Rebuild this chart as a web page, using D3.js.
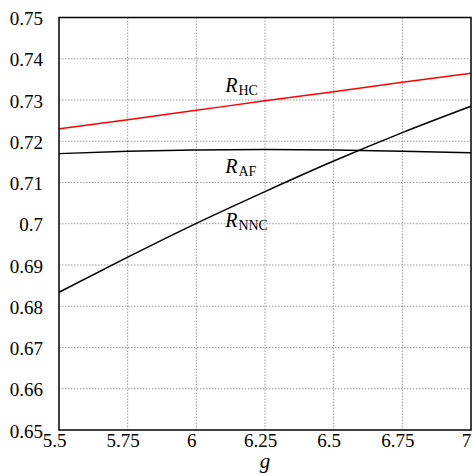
<!DOCTYPE html>
<html>
<head>
<meta charset="utf-8">
<script src="https://cdn.jsdelivr.net/npm/d3@7"></script>
<style>
  body { margin: 0; background: #fff; }
</style>
</head>
<body>
<script>
    'use strict';

    var gValues = [5.5, 5.75, 6, 6.25, 6.5, 6.75, 7];
    var rHC = [0.7230, 0.7252, 0.7275, 0.7298, 0.7320, 0.7343, 0.7365];
    var rAF = [0.7170, 0.7176, 0.7179, 0.7180, 0.7179, 0.7176, 0.7172];
    var rNNC = [0.6834, 0.6919, 0.7001, 0.7078, 0.7152, 0.7221, 0.7285];
    var xTicks = [5.5, 5.75, 6, 6.25, 6.5, 6.75, 7];
    var yTicks = [0.65, 0.66, 0.67, 0.68, 0.69, 0.7, 0.71, 0.72, 0.73, 0.74, 0.75];

    var width = 472;
    var height = 475;
    var margin = { left: 59, right: 1, top: 17.5, bottom: 45 };
    var serif = 'Liberation Serif, DejaVu Serif, Noto Serif, Tinos, Times New Roman, Times, Nimbus Roman, FreeSerif, serif';

    var svg = d3.select('body')
        .append('svg')
        .attr('width', width)
        .attr('height', height)
        .style('font-family', serif)
        ;

    var x = d3.scaleLinear()
        .domain([5.5, 7])
        .range([margin.left, width - margin.right]);

    var y = d3.scaleLinear()
        .domain([0.65, 0.75])
        .range([height - margin.bottom, margin.top]);

    // grid
    svg.append('g')
        .selectAll('line')
        .data(xTicks.slice(1, -1))
        .enter()
        .append('line')
        .attr('x1', x).attr('x2', x)
        .attr('y1', y(0.65)).attr('y2', y(0.75))
        .attr('stroke', '#999')
        .attr('stroke-dasharray', '1.5,1.5')
        ;

    svg.append('g')
        .selectAll('line')
        .data(yTicks.slice(1, -1))
        .enter()
        .append('line')
        .attr('x1', x(5.5)).attr('x2', x(7))
        .attr('y1', y).attr('y2', y)
        .attr('stroke', '#999')
        .attr('stroke-dasharray', '1.5,1.5')
        ;

    // axes, labels only
    var xAxis = svg.append('g')
        .attr('transform', 'translate(0,' + y(0.65) + ')')
        .call(d3.axisBottom(x).tickValues(xTicks).tickSize(0).tickFormat(d3.format('')));
    xAxis.attr('font-family', null).style('font-family', serif);
    xAxis.select('.domain').remove();
    xAxis.selectAll('text')
        .attr('dy', 0)
        .attr('y', 16.5)
        .attr('dx', -5)
        .attr('font-size', 19)
        .attr('fill', '#000')
        ;

    var yAxis = svg.append('g')
        .attr('transform', 'translate(' + x(5.5) + ',0)')
        .call(d3.axisLeft(y).tickValues(yTicks).tickSize(0).tickFormat(d3.format('')));
    yAxis.attr('font-family', null).style('font-family', serif);
    yAxis.select('.domain').remove();
    yAxis.selectAll('text')
        .attr('dy', 0)
        .attr('y', 7)
        .attr('x', -16)
        .attr('font-size', 19)
        .attr('fill', '#000')
        ;

    // curves
    var series = [
        { values: rHC, color: '#ff0000' },
        { values: rAF, color: '#000' },
        { values: rNNC, color: '#000' }
    ];

    var line = d3.line()
        .x(function (d, i) { return x(gValues[i]); })
        .y(function (d) { return y(d); })
        .curve(d3.curveMonotoneX);

    svg.append('g')
        .selectAll('path')
        .data(series)
        .enter()
        .append('path')
        .attr('d', function (s) { return line(s.values); })
        .attr('fill', 'none')
        .attr('stroke', function (s) { return s.color; })
        .attr('stroke-width', 1.5)
        ;

    // frame
    svg.append('rect')
        .attr('x', x(5.5)).attr('y', y(0.75))
        .attr('width', x(7) - x(5.5))
        .attr('height', y(0.65) - y(0.75))
        .attr('fill', 'none')
        .attr('stroke', '#000')
        .attr('stroke-width', 1.5)
        ;

    // curve labels
    var labels = [
        { sub: 'HC', gx: 6.105, gy: 0.7319 },
        { sub: 'AF', gx: 6.105, gy: 0.7122 },
        { sub: 'NNC', gx: 6.105, gy: 0.6993 }
    ];

    var lab = svg.append('g')
        .selectAll('text')
        .data(labels)
        .enter()
        .append('text')
        .attr('x', function (d) { return x(d.gx); })
        .attr('y', function (d) { return y(d.gy); })
        .attr('font-size', 20)
        ;
    lab.append('tspan').attr('font-style', 'italic').text('R');
    lab.append('tspan')
        .attr('font-size', 14)
        .attr('dy', 3)
        .attr('dx', 1)
        .text(function (d) { return d.sub; });

    svg.append('text')
        .attr('x', x(6.25))
        .attr('y', 468)
        .attr('text-anchor', 'middle')
        .attr('font-size', 21)
        .attr('font-style', 'italic')
        .text('g');
</script>
</body>
</html>
